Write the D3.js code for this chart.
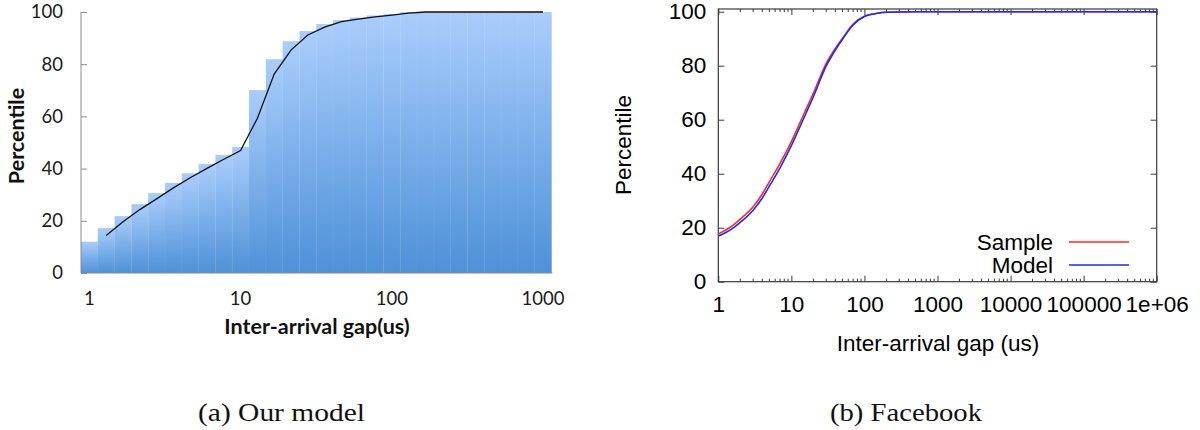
<!DOCTYPE html>
<html>
<head>
<meta charset="utf-8">
<script src="https://cdn.jsdelivr.net/npm/d3@7"></script>
<style>
  html, body { margin: 0; padding: 0; background: #ffffff; }
  svg { display: block; }
</style>
</head>
<body>
<svg id="chart" width="1200" height="430"></svg>
<script>
// ---------- Data: (a) Our model ----------
const modelCategories = ["1","2","3","4","5","6","7","8","9",
  "10","20","30","40","50","60","70","80","90",
  "100","200","300","400","500","600","700","800","900","1000"];
const modelBarValues = [12, 17.2, 21.8, 26.4, 30.6, 34.5, 38.2, 41.8, 45.2,
  48.3, 70.1, 81.9, 88.8, 92.7, 95.4, 96.9, 97.9, 98.7,
  99.2, 100, 100, 100, 100, 100, 100, 100, 100, 100];
const modelLineValues = [null, 14.4, 19.6, 24.3, 28.4, 32.6, 36.5, 40.1, 43.6,
  46.9, 59.3, 76.2, 85.4, 91.2, 94.2, 96.3, 97.3, 98.1,
  98.8, 99.6, 100, 100, 100, 100, 100, 100, 100, 100];
const modelXTickLabels = ["1", "10", "100", "1000"];
const modelYTicks = [0, 20, 40, 60, 80, 100];

// ---------- Data: (b) Facebook ----------
const fbX = [1, 1.5, 2, 3, 4, 5, 7, 10, 15, 20, 30, 40, 50, 70, 100, 150, 200, 500, 1000, 1000000];
const fbSample = [17.7, 20.4, 23.2, 27.8, 32.5, 37.0, 43.8, 51.9, 62.4, 69.8, 80.9, 86.4, 90.1, 95.4, 98.3, 99.4, 99.8, 100, 100, 100];
const fbModel  = [16.9, 19.4, 22.0, 26.5, 31.0, 35.4, 42.2, 50.4, 60.9, 68.5, 79.9, 85.8, 89.8, 95.1, 98.2, 99.4, 99.8, 100, 100, 100];
const fbXTicks = [1, 10, 100, 1000, 10000, 100000, 1000000];
const fbXTickLabels = ["1", "10", "100", "1000", "10000", "100000", "1e+06"];
const fbYTicks = [0, 20, 40, 60, 80, 100];
const seriesNames = ["Sample", "Model"];
const seriesColors = ["#ff2a1a", "#1a2aff"];

const svg = d3.select("#chart");

// ================= Left chart =================
(function () {
  const left = 81, right = 551.4, top = 12, bottom = 273;
  const font = "Lato, 'Open Sans', sans-serif";
  const x = d3.scaleBand().domain(modelCategories).range([left, right]).paddingInner(0).paddingOuter(0);
  const y = d3.scaleLinear().domain([0, 100]).range([bottom, top]);
  const g = svg.append("g");

  const defs = svg.append("defs");
  const grad = defs.append("linearGradient").attr("id", "barGrad")
    .attr("x1", 0).attr("y1", 0).attr("x2", 0).attr("y2", 1);
  grad.append("stop").attr("offset", "0%").attr("stop-color", "#a9cdfc");
  grad.append("stop").attr("offset", "100%").attr("stop-color", "#4e91d8");

  g.selectAll("rect.bar").data(modelCategories).enter().append("rect")
    .attr("class", "bar")
    .attr("x", d => x(d))
    .attr("width", x.bandwidth() + 0.3)
    .attr("y", (d, i) => y(modelBarValues[i]))
    .attr("height", (d, i) => bottom - y(modelBarValues[i]))
    .attr("fill", "url(#barGrad)");

  // faint bar separators
  g.selectAll("line.sep").data(modelCategories.slice(1)).enter().append("line")
    .attr("x1", d => x(d)).attr("x2", d => x(d))
    .attr("y1", (d) => y(modelBarValues[modelCategories.indexOf(d)]))
    .attr("y2", bottom)
    .attr("stroke", "#ffffff").attr("stroke-opacity", 0.06).attr("stroke-width", 1);

  // axes
  const axisColor = "#8c8c8c";
  g.append("line").attr("x1", left).attr("x2", left).attr("y1", top).attr("y2", bottom)
    .attr("stroke", axisColor).attr("stroke-width", 1);
  g.append("line").attr("x1", left).attr("x2", right + 1).attr("y1", bottom).attr("y2", bottom)
    .attr("stroke", axisColor).attr("stroke-width", 1.2);
  const yAxis = d3.axisLeft(y).tickValues(modelYTicks).tickSize(-6).tickPadding(18).tickFormat(d3.format("d"));
  const ya = g.append("g").attr("transform", `translate(${left},0)`).call(yAxis);
  ya.select(".domain").remove();
  ya.selectAll(".tick line").attr("stroke", axisColor);
  ya.selectAll(".tick text").attr("font-family", font).attr("font-size", 18.5).attr("fill", "#1a1a1a");

  const xAxis = d3.axisBottom(x).tickValues(modelXTickLabels).tickSize(0).tickPadding(19);
  const xa = g.append("g").attr("transform", `translate(0,${bottom})`).call(xAxis);
  xa.select(".domain").remove();
  xa.selectAll(".tick text").attr("font-family", font).attr("font-size", 18.5).attr("fill", "#1a1a1a");

  // line
  const line = d3.line()
    .defined(d => d[1] !== null)
    .x(d => x(d[0]) + x.bandwidth() / 2)
    .y(d => y(d[1]));
  g.append("path").datum(modelCategories.map((c, i) => [c, modelLineValues[i]]))
    .attr("d", line).attr("fill", "none").attr("stroke", "#111").attr("stroke-width", 1.3);

  // titles
  g.append("text").attr("x", 317).attr("y", 334).attr("text-anchor", "middle")
    .attr("font-family", font).attr("font-weight", "bold").attr("font-size", 21.5)
    .attr("fill", "#111").text("Inter-arrival gap(us)");
  g.append("text").attr("transform", "translate(24,136) rotate(-90)").attr("text-anchor", "middle")
    .attr("font-family", font).attr("font-weight", "bold").attr("font-size", 21.5)
    .attr("fill", "#111").text("Percentile");
})();

// ================= Right chart =================
(function () {
  const left = 718.3, right = 1156.7, top = 9, bottom = 281.7;
  const x = d3.scaleLog().domain([1, 1000000]).range([left, right]);
  const y = d3.scaleLinear().domain([0, 101]).range([bottom, top]);
  const g = svg.append("g");
  const borderColor = "#3a3a3a";
  const font = "'Liberation Sans', Arial, sans-serif";
  const fs = 22.5;

  // minor x ticks
  const minors = [];
  for (let e = 0; e < 6; e++) for (let k = 2; k <= 9; k++) minors.push(k * Math.pow(10, e));
  g.selectAll("line.minb").data(minors).enter().append("line")
    .attr("x1", d => x(d)).attr("x2", d => x(d)).attr("y1", bottom).attr("y2", bottom - 3)
    .attr("stroke", borderColor).attr("stroke-width", 1);
  g.selectAll("line.mint").data(minors).enter().append("line")
    .attr("x1", d => x(d)).attr("x2", d => x(d)).attr("y1", top).attr("y2", top + 3)
    .attr("stroke", borderColor).attr("stroke-width", 1);

  // major x ticks
  const xAxisB = d3.axisBottom(x).tickValues(fbXTicks).tickSize(-6).tickPadding(14)
    .tickFormat((d, i) => fbXTickLabels[i]);
  const xb = g.append("g").attr("transform", `translate(0,${bottom})`).call(xAxisB);
  xb.select(".domain").remove();
  xb.selectAll(".tick line").attr("stroke", borderColor);
  xb.selectAll(".tick text").attr("font-family", font).attr("font-size", fs).attr("fill", "#000");
  const xAxisT = d3.axisTop(x).tickValues(fbXTicks).tickSize(-6).tickFormat("");
  const xt = g.append("g").attr("transform", `translate(0,${top})`).call(xAxisT);
  xt.select(".domain").remove();
  xt.selectAll(".tick line").attr("stroke", borderColor);

  // y ticks
  const yAxisL = d3.axisLeft(y).tickValues(fbYTicks).tickSize(-6).tickPadding(12).tickFormat(d3.format("d"));
  const yl = g.append("g").attr("transform", `translate(${left},0)`).call(yAxisL);
  yl.select(".domain").remove();
  yl.selectAll(".tick line").attr("stroke", borderColor);
  yl.selectAll(".tick text").attr("font-family", font).attr("font-size", fs).attr("fill", "#000");
  const yAxisR = d3.axisRight(y).tickValues(fbYTicks).tickSize(-6).tickFormat("");
  const yr = g.append("g").attr("transform", `translate(${right},0)`).call(yAxisR);
  yr.select(".domain").remove();
  yr.selectAll(".tick line").attr("stroke", borderColor);

  // border
  g.append("rect").attr("x", left).attr("y", top).attr("width", right - left).attr("height", bottom - top)
    .attr("fill", "none").attr("stroke", borderColor).attr("stroke-width", 1.2);

  // curves
  const line = d3.line().x(d => x(d[0])).y(d => y(d[1])).curve(d3.curveMonotoneX);
  [fbSample, fbModel].forEach((vals, si) => {
    g.append("path").datum(fbX.map((xv, i) => [xv, vals[i]]))
      .attr("d", line).attr("fill", "none").attr("stroke", seriesColors[si]).attr("stroke-width", 1.6);
  });

  // legend
  const legY = [242, 265];
  seriesNames.forEach((name, i) => {
    g.append("text").attr("x", 1053).attr("y", legY[i] + 8).attr("text-anchor", "end")
      .attr("font-family", font).attr("font-size", fs).attr("fill", "#000").text(name);
    g.append("line").attr("x1", 1069).attr("x2", 1129).attr("y1", legY[i]).attr("y2", legY[i])
      .attr("stroke", seriesColors[i]).attr("stroke-width", 1.6);
  });

  // titles
  g.append("text").attr("x", 938).attr("y", 351).attr("text-anchor", "middle")
    .attr("font-family", font).attr("font-size", fs).attr("fill", "#000").text("Inter-arrival gap (us)");
  g.append("text").attr("transform", "translate(631,145) rotate(-90)").attr("text-anchor", "middle")
    .attr("font-family", font).attr("font-size", fs).attr("fill", "#000").text("Percentile");
})();

// ================= Captions =================
const captions = [{ text: "(a) Our model", cx: 281.5, w: 167 }, { text: "(b) Facebook", cx: 906, w: 152 }];
svg.selectAll("text.caption").data(captions).enter().append("text")
  .attr("class", "caption")
  .attr("x", d => d.cx).attr("y", 421).attr("text-anchor", "middle")
  .attr("font-family", "'Liberation Serif', 'DejaVu Serif', serif").attr("font-size", 26)
  .attr("textLength", d => d.w).attr("lengthAdjust", "spacingAndGlyphs")
  .attr("fill", "#111").text(d => d.text);
</script>
</body>
</html>
